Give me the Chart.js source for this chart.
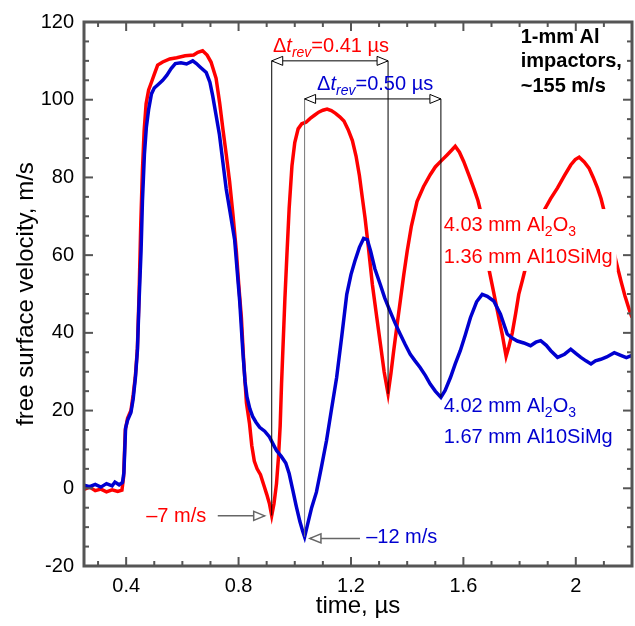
<!DOCTYPE html>
<html>
<head>
<meta charset="utf-8">
<script src="https://cdn.jsdelivr.net/npm/chart.js@4.4.1/dist/chart.umd.min.js"></script>
<style>
  html, body { margin: 0; background: #fff; }
  canvas { display: block; }
</style>
</head>
<body>
<canvas id="chart" width="635" height="626"></canvas>
<script>
// Free surface velocity traces, time in µs, velocity in m/s.
const RED_T = [0.25, 0.27, 0.29, 0.31, 0.33, 0.35, 0.37, 0.385, 0.391, 0.397, 0.405, 0.417, 0.425, 0.433, 0.44,
  0.446, 0.452, 0.458, 0.464, 0.471, 0.48, 0.49, 0.5, 0.512, 0.53, 0.555, 0.58, 0.61, 0.64, 0.655, 0.672, 0.688,
  0.702, 0.72, 0.733, 0.744, 0.756, 0.768, 0.78, 0.792, 0.801, 0.81, 0.818, 0.828, 0.839, 0.847, 0.856, 0.866,
  0.878, 0.89, 0.9, 0.91, 0.918, 0.926, 0.935, 0.942, 0.948, 0.953, 0.959, 0.965, 0.972, 0.98, 0.99, 1.0, 1.012,
  1.025, 1.04, 1.055, 1.07, 1.085, 1.1, 1.115, 1.13, 1.145, 1.16, 1.175, 1.19, 1.205, 1.218, 1.23, 1.24, 1.25,
  1.262, 1.276, 1.292, 1.305, 1.318, 1.332, 1.342, 1.352, 1.364, 1.376, 1.388, 1.4, 1.415, 1.435, 1.458, 1.482,
  1.5, 1.52, 1.542, 1.558, 1.571, 1.586, 1.601, 1.62, 1.638, 1.652, 1.662, 1.676, 1.69, 1.702, 1.714, 1.727,
  1.738, 1.752, 1.762, 1.774, 1.786, 1.797, 1.81, 1.821, 1.85, 1.872, 1.887, 1.91, 1.935, 1.96, 1.982, 1.998,
  2.012, 2.03, 2.047, 2.062, 2.077, 2.09, 2.101, 2.125, 2.149, 2.162, 2.175, 2.19, 2.2];
const RED_V = [-0.3, 0.3, -0.6, -0.2, -0.9, -0.4, -0.8, -0.5, 3, 15, 18, 20, 24, 29, 36,
  50, 68, 82, 92, 99, 102.5, 104.5, 106.5, 108.9, 109.7, 110.5, 110.8, 111.3, 111.5, 112.2, 112.6, 111.5,
  109.7, 105.5, 99, 92.6, 86, 79, 70.5, 61, 52, 44, 33, 22, 16.6, 11, 7, 5,
  3.5, 0.8, -1.5, -4, -7, -4, 1.2, 8, 16, 27, 38, 49, 60, 72, 83, 89, 92.5,
  93.8, 94.2, 95.2, 96, 96.8, 97.3, 97.6, 97.2, 96.5, 95.6, 94.5, 92.3, 89.5, 85.5, 80.5, 75, 69.6,
  62, 52.5, 43.9, 37, 30, 24.3, 29.5, 35.4, 42, 48.5, 55, 61, 67.5, 73.8, 77.6, 80.7,
  82.7, 84.2, 85.8, 87, 88, 86.5, 84.1, 80.5, 77, 74, 71, 64, 56.7, 52.5, 48.2, 43.5,
  39.7, 34, 36.5, 40, 45, 49.9, 53.5, 56.7, 64.5, 69, 71.5, 74.5, 77.3, 80.5, 83.2, 84.6,
  85.2, 84, 82.4, 80, 77.3, 74.5, 71.3, 64, 56.7, 53, 49.5, 46, 44];

const BLUE_T = [0.25, 0.27, 0.29, 0.31, 0.33, 0.35, 0.36, 0.375, 0.387, 0.392, 0.398, 0.405, 0.417, 0.425, 0.433,
  0.44, 0.446, 0.453, 0.458, 0.465, 0.472, 0.48, 0.49, 0.5, 0.515, 0.53, 0.545, 0.56, 0.575, 0.595, 0.615, 0.637,
  0.65, 0.662, 0.685, 0.698, 0.708, 0.72, 0.732, 0.744, 0.756, 0.77, 0.786, 0.795, 0.804, 0.815, 0.823, 0.83,
  0.84, 0.85, 0.862, 0.875, 0.893, 0.91, 0.922, 0.935, 0.952, 0.968, 0.98, 0.993, 1.005, 1.018, 1.028, 1.035,
  1.045, 1.06, 1.077, 1.095, 1.113, 1.13, 1.149, 1.167, 1.185, 1.2, 1.214, 1.23, 1.245, 1.258, 1.27, 1.285,
  1.304, 1.32, 1.339, 1.357, 1.375, 1.393, 1.411, 1.428, 1.446, 1.465, 1.482, 1.5, 1.52, 1.535, 1.554, 1.571,
  1.589, 1.607, 1.625, 1.647, 1.667, 1.685, 1.708, 1.732, 1.756, 1.775, 1.792, 1.815, 1.839, 1.858, 1.875,
  1.895, 1.911, 1.935, 1.96, 1.982, 2.0, 2.018, 2.036, 2.054, 2.07, 2.089, 2.11, 2.137, 2.16, 2.18, 2.2];
const BLUE_V = [0.8, 0.4, 1.0, 0.3, 1.2, 0.6, 1.6, 0.9, 1.5, 4, 15.5, 17.5, 19.5, 23, 28.5,
  35.4, 48.2, 61, 74, 86, 93, 97.5, 101.5, 103, 104, 105, 106.3, 108, 109.3, 109.5, 109.2, 110,
  109.3, 108.5, 107, 104.5, 101, 96, 91, 84, 77, 71, 64, 56, 48.2, 35.4, 27.5, 23.5,
  20.5, 18.5, 17, 15.7, 14.7, 13.2, 11.5, 9.7, 8.2, 6.5, 3.8, -0.5, -4.5, -8.5, -11, -12.5,
  -9.5, -5, -1, 5.5, 12.3, 20, 28.5, 39, 49.9, 55, 58.5, 62, 64.3, 64, 61, 56.5,
  52.5, 49, 45.6, 42.5, 39.7, 37, 34.5, 32.8, 31.1, 29, 26.8, 25, 23.4, 25.2, 28.5, 32,
  35.4, 39.5, 43.9, 48, 49.9, 49.4, 48.2, 44.8, 39.7, 38.6, 37.9, 37.4, 36.7, 37.6, 38,
  36.8, 35.4, 33.7, 34.5, 35.8, 34.7, 33.7, 32.8, 32, 32.8, 33.2, 33.8, 34.9, 34.2, 33.6, 34.2];

const X_TICKS = [0.4, 0.8, 1.2, 1.6, 2];
const Y_TICKS = [-20, 0, 20, 40, 60, 80, 100, 120];

const RED = "#ff0000";
const BLUE = "#0000d0";
const AXIS = "#555555";
const FONT = "'Liberation Sans', Arial, sans-serif";
const TEXT_SIZE = 20;
const SUB_SIZE = 14;
const SUB_DROP = 5;

const fontOf = (p) =>
  `${p.italic ? "italic " : ""}${p.bold ? "bold " : ""}${p.sub ? SUB_SIZE : TEXT_SIZE}px ${FONT}`;

// Draws a run of text pieces (italic / subscript) on one baseline; returns its width.
function drawRich(ctx, x, y, parts, align = "left") {
  const widths = parts.map((p) => { ctx.font = fontOf(p); return ctx.measureText(p.text).width; });
  const total = widths.reduce((a, b) => a + b, 0);
  let cx = align === "center" ? x - total / 2 : align === "right" ? x - total : x;
  parts.forEach((p, i) => {
    ctx.font = fontOf(p);
    ctx.fillText(p.text, cx, y + (p.sub ? SUB_DROP : 0));
    cx += widths[i];
  });
  return total;
}

function richWidth(ctx, parts) {
  return parts.reduce((w, p) => { ctx.font = fontOf(p); return w + ctx.measureText(p.text).width; }, 0);
}

// open triangular head, tip at (x, y), dir = +1 right / -1 left
function arrowHead(ctx, x, y, dir) {
  ctx.beginPath();
  ctx.moveTo(x, y);
  ctx.lineTo(x - dir * 11, y - 4.5);
  ctx.lineTo(x - dir * 11, y + 4.5);
  ctx.closePath();
  ctx.fillStyle = "#fff";
  ctx.fill();
  ctx.stroke();
}

function line(ctx, x0, y0, x1, y1) {
  ctx.beginPath();
  ctx.moveTo(x0, y0);
  ctx.lineTo(x1, y1);
  ctx.stroke();
}

const dtParts = (val) => [
  { text: "\u0394" }, { text: "t", italic: true }, { text: "rev", italic: true, sub: true },
  { text: "=" + val + " \u00b5s" },
];
const matParts = (a, b) => [
  [{ text: a + " mm Al" }, { text: "2", sub: true }, { text: "O" }, { text: "3", sub: true }],
  [{ text: b + " mm Al10SiMg" }],
];

// reverberation brackets: from first minimum to second minimum of each trace
const BRACKETS = [
  { t0: 0.918, t1: 1.332, v: 110, v0: -7, v1: 24.3, left: "#000", right: "#000",
    label: dtParts("0.41"), lt: 1.129, lv: 112.3, color: RED },
  { t0: 1.035, t1: 1.52, v: 100.2, v0: -12.5, v1: 23.4, left: "#777", right: "#000",
    label: dtParts("0.50"), lt: 1.286, lv: 102.5, color: BLUE },
];

const notesPlugin = {
  id: "notes",
  afterDatasetsDraw(chart) {
    const { ctx, scales: { x, y } } = chart;
    ctx.save();
    ctx.textBaseline = "alphabetic";

    // sample label for the red trace sits on a white patch
    const redLines = matParts("4.03", "1.36");
    const rx = x.getPixelForValue(1.53);
    const ry1 = y.getPixelForValue(66.2), ry2 = y.getPixelForValue(58);
    const rw = Math.max(...redLines.map((l) => richWidth(ctx, l)));
    ctx.fillStyle = "#fff";
    ctx.fillRect(rx - 4, ry1 - 22, rw + 8, ry2 - ry1 + 30);
    ctx.fillStyle = RED;
    drawRich(ctx, rx, ry1, redLines[0]);
    drawRich(ctx, rx, ry2, redLines[1]);

    const blueLines = matParts("4.02", "1.67");
    ctx.fillStyle = BLUE;
    drawRich(ctx, x.getPixelForValue(1.53), y.getPixelForValue(19.6), blueLines[0]);
    drawRich(ctx, x.getPixelForValue(1.53), y.getPixelForValue(11.6), blueLines[1]);

    // Δt_rev brackets
    ctx.lineWidth = 1;
    BRACKETS.forEach((b) => {
      const px0 = x.getPixelForValue(b.t0), px1 = x.getPixelForValue(b.t1);
      const py = y.getPixelForValue(b.v);
      ctx.strokeStyle = b.left;
      line(ctx, px0, py, px0, y.getPixelForValue(b.v0));
      ctx.strokeStyle = b.right;
      line(ctx, px1, py, px1, y.getPixelForValue(b.v1));
      ctx.strokeStyle = "#000";
      line(ctx, px0, py, px1, py);
      arrowHead(ctx, px0, py, -1);
      arrowHead(ctx, px1, py, 1);
      ctx.fillStyle = b.color;
      drawRich(ctx, x.getPixelForValue(b.lt), y.getPixelForValue(b.lv), b.label, "center");
    });

    // minimum velocity call-outs
    ctx.strokeStyle = "#666";
    ctx.lineWidth = 1.5;
    let py = y.getPixelForValue(-7.1);
    line(ctx, x.getPixelForValue(0.726), py, x.getPixelForValue(0.893), py);
    arrowHead(ctx, x.getPixelForValue(0.893), py, 1);
    py = y.getPixelForValue(-12.9);
    line(ctx, x.getPixelForValue(1.232), py, x.getPixelForValue(1.054), py);
    arrowHead(ctx, x.getPixelForValue(1.054), py, -1);
    ctx.fillStyle = RED;
    drawRich(ctx, x.getPixelForValue(0.685), y.getPixelForValue(-8.6), [{ text: "\u20137 m/s" }], "right");
    ctx.fillStyle = BLUE;
    drawRich(ctx, x.getPixelForValue(1.254), y.getPixelForValue(-14.2), [{ text: "\u201312 m/s" }]);

    // impactor note
    ctx.fillStyle = "#000";
    const nx = x.getPixelForValue(1.804);
    drawRich(ctx, nx, y.getPixelForValue(114.5), [{ text: "1-mm Al", bold: true }]);
    drawRich(ctx, nx, y.getPixelForValue(108.3), [{ text: "impactors,", bold: true }]);
    drawRich(ctx, nx, y.getPixelForValue(102.1), [{ text: "~155 m/s", bold: true }]);
    ctx.restore();
  },
};

// box frame with inward major/minor ticks on all four sides
const framePlugin = {
  id: "frame",
  afterDatasetsDraw(chart) {
    const { ctx, chartArea: a, scales: { x, y } } = chart;
    ctx.save();
    ctx.strokeStyle = AXIS;
    ctx.lineWidth = 2;
    for (let k = 1; k * 0.1 < x.max; k++) {
      const t = k * 0.1;
      if (t <= x.min + 1e-9) continue;
      const px = x.getPixelForValue(t);
      const len = k % 4 === 0 ? 9 : 5;
      line(ctx, px, a.bottom, px, a.bottom - len);
      line(ctx, px, a.top, px, a.top + len);
    }
    for (let v = y.min + 5; v < y.max; v += 5) {
      const py = y.getPixelForValue(v);
      const len = v % 20 === 0 ? 9 : 5;
      line(ctx, a.left, py, a.left + len, py);
      line(ctx, a.right, py, a.right - len, py);
    }
    ctx.lineWidth = 3;
    ctx.strokeRect(a.left, a.top, a.right - a.left, a.bottom - a.top);
    ctx.restore();
  },
};

const toPoints = (ts, vs) => ts.map((t, i) => ({ x: t, y: vs[i] }));

new Chart(document.getElementById("chart"), {
  type: "line",
  data: {
    datasets: [
      { label: "4.03 mm Al2O3 / 1.36 mm Al10SiMg", data: toPoints(RED_T, RED_V), borderColor: RED,
        borderWidth: 3.5, pointRadius: 0, tension: 0, fill: false, order: 2 },
      { label: "4.02 mm Al2O3 / 1.67 mm Al10SiMg", data: toPoints(BLUE_T, BLUE_V), borderColor: BLUE,
        borderWidth: 3.5, pointRadius: 0, tension: 0, fill: false, order: 1 },
    ],
  },
  options: {
    responsive: false,
    animation: false,
    layout: { padding: { top: 20, right: 3, left: 0, bottom: 0 } },
    plugins: { legend: { display: false }, tooltip: { enabled: false } },
    scales: {
      x: {
        type: "linear",
        min: 0.25,
        max: 2.2,
        afterBuildTicks: (s) => { s.ticks = X_TICKS.map((v) => ({ value: v })); },
        afterFit: (s) => { s.height = 60; },
        grid: { display: false, drawTicks: false },
        border: { display: false },
        ticks: { color: "#000", padding: 8, font: { family: FONT, size: 20 }, callback: (v) => String(v) },
        title: { display: true, text: "time, \u00b5s", color: "#000", padding: { top: 0, bottom: 5 },
          font: { family: FONT, size: 24 } },
      },
      y: {
        min: -20,
        max: 120,
        afterBuildTicks: (s) => { s.ticks = Y_TICKS.map((v) => ({ value: v })); },
        afterFit: (s) => { s.width = 84; },
        grid: { display: false, drawTicks: false },
        border: { display: false },
        ticks: { color: "#000", padding: 10, font: { family: FONT, size: 20 } },
        title: { display: true, text: "free surface velocity, m/s", color: "#000",
          padding: { top: 12, bottom: 0 }, font: { family: FONT, size: 24 } },
      },
    },
  },
  plugins: [notesPlugin, framePlugin],
});
</script>
</body>
</html>
